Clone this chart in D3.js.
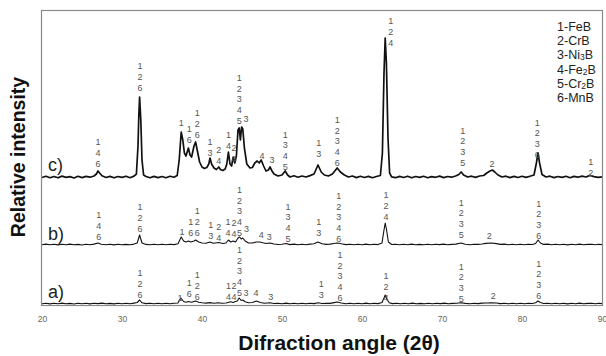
<!DOCTYPE html>
<html>
<head>
<meta charset="utf-8">
<script src="https://cdn.jsdelivr.net/npm/d3@7"></script>
<style>
  body { margin: 0; background: #fff; }
  svg { display: block; font-family: "Liberation Sans", Arial, sans-serif; }
</style>
</head>
<body>
<svg id="chart" width="606" height="356"></svg>
<script>
// XRD patterns, intensity read as offset above each pattern's own baseline
const xTicks = [20, 30, 40, 50, 60, 70, 80, 90];
const seriesNames = ["a)", "b)", "c)"];
const seriesOffsets = [2, 61, 128];

const patternA = [[20,0.2],[20.5,0.8],[21,0.1],[21.5,0.7],[22,0.3],[22.5,0.9],[23,0.2],[23.5,0.6],[24,0],[24.5,0.8],[25,0.3],[25.5,0.7],[26,0.1],[26.5,0.8],[27,0.4],[27.5,0.9],[28,0.2],[28.5,0.6],[29,0.1],[29.5,0.8],[30,0.3],[30.5,0.7],[31,0.2],[31.5,0.9],[31.9,1.5],[32.2,4],[32.5,1.2],[33,0.4],[33.5,0.8],[34,0.2],[34.5,0.7],[35,0.3],[35.5,0.8],[36,0.2],[36.5,0.7],[37,1],[37.35,6],[37.7,2.5],[38,1.8],[38.3,2.5],[38.7,1.8],[39.2,3],[39.6,1.8],[40,1.2],[40.5,0.9],[41,1.4],[41.5,0.8],[42,1.2],[42.5,0.7],[43,1],[43.6,2.2],[43.9,1.5],[44.1,2.2],[44.4,3],[44.65,6],[44.9,3.5],[45.1,4],[45.4,2.2],[45.8,1.2],[46.3,1.5],[46.8,3],[47.3,1.5],[47.8,0.8],[48.5,1.3],[49,0.5],[49.5,0.8],[50,0.3],[50.5,0.9],[51,0.2],[51.5,0.7],[52,0.3],[52.5,0.8],[53,0.2],[53.5,0.7],[54,0.4],[54.5,1.2],[55,0.5],[55.5,0.8],[56,0.6],[56.5,1.4],[56.9,2],[57.4,1],[58,0.3],[58.5,0.8],[59,0.2],[59.5,0.7],[60,0.3],[60.5,0.9],[61,0.2],[61.5,0.7],[62,0.4],[62.5,1.5],[62.75,6],[62.9,9],[63.1,5],[63.4,1.2],[63.8,0.4],[64.3,0.8],[64.8,0.2],[65.3,0.7],[65.8,0.3],[66.3,0.9],[66.8,0.2],[67.3,0.6],[67.8,0.3],[68.3,0.8],[68.8,0.2],[69.3,0.7],[69.8,0.4],[70.3,0.9],[70.8,0.3],[71.3,0.6],[71.8,0.8],[72.4,1.3],[72.9,0.6],[73.5,0.2],[74,0.8],[74.5,0.4],[75,0.9],[75.5,1],[76.2,1.2],[76.8,1],[77.3,0.4],[77.8,0.8],[78.3,0.2],[78.8,0.7],[79.3,0.3],[79.8,0.8],[80.3,0.2],[80.8,0.7],[81.3,0.5],[81.7,1.2],[82,3],[82.3,1.5],[82.7,0.5],[83.2,0.8],[83.7,0.2],[84.2,0.7],[84.7,0.3],[85.2,0.8],[85.7,0.1],[86.2,0.7],[86.7,0.3],[87.2,0.9],[87.7,0.2],[88.2,0.6],[88.7,0.8],[89.2,0.3],[89.6,0.7],[90,0.4]];

const patternB = [[20,0.3],[20.5,0.9],[21,0.2],[21.5,0.8],[22,0.1],[22.5,0.7],[23,0.3],[23.5,0.9],[24,0.2],[24.5,0.6],[25,0],[25.5,0.8],[26,0.3],[26.5,0.9],[27,2],[27.4,0.8],[28,0.3],[28.5,0.7],[29,0.1],[29.5,0.8],[30,0.3],[30.5,0.6],[31,0.2],[31.5,0.9],[31.9,2],[32.2,10],[32.5,2],[33,0.6],[33.5,0.2],[34,0.8],[34.5,0.3],[35,0.7],[35.5,0.2],[36,0.8],[36.5,0.4],[37,1.2],[37.4,8],[37.7,4],[38,3],[38.3,4],[38.6,3],[39,4],[39.2,5],[39.6,3],[40,2],[40.5,1.8],[41,3],[41.4,1.8],[42.1,2.5],[42.6,1.5],[43,2],[43.3,5],[43.6,3],[43.9,4],[44.2,3],[44.5,7],[44.7,8],[44.9,6],[45.1,7],[45.4,4],[45.8,2],[46.3,2],[46.8,3],[47.2,3],[47.6,2.2],[48,1.5],[48.5,2],[49,1],[49.5,0.5],[50,0.8],[50.5,1.5],[51,0.4],[51.5,0.9],[52,0.2],[52.5,0.8],[53,0.3],[53.5,0.9],[54,1.2],[54.5,3],[55,1.2],[55.5,0.6],[56,0.9],[56.5,1.5],[56.9,2],[57.4,1.2],[58,0.4],[58.5,0.8],[59,0.2],[59.5,0.7],[60,0.3],[60.5,0.9],[61,0.2],[61.5,0.7],[62,0.4],[62.5,2],[62.75,15],[62.9,22],[63.05,16],[63.3,3],[63.7,0.5],[64.2,0.8],[64.7,0.2],[65.2,0.7],[65.7,0.3],[66.2,0.9],[66.7,0.2],[67.2,0.6],[67.7,0.3],[68.2,0.8],[68.7,0.2],[69.2,0.7],[69.7,0.4],[70.2,0.9],[70.7,0.3],[71.2,0.6],[71.7,0.9],[72.4,2],[72.9,0.7],[73.5,0.3],[74,0.8],[74.5,0.6],[75,1],[75.5,1.6],[76.2,2],[76.8,1.4],[77.3,0.6],[77.8,0.9],[78.3,0.2],[78.8,0.7],[79.3,0.3],[79.8,0.8],[80.3,0.2],[80.8,0.7],[81.3,0.5],[81.7,1.5],[82,5],[82.3,2],[82.7,0.6],[83.2,0.9],[83.7,0.2],[84.2,0.7],[84.7,0.3],[85.2,0.8],[85.7,0.1],[86.2,0.7],[86.7,0.3],[87.2,0.9],[87.7,0.2],[88.2,0.6],[88.7,0.8],[89.2,0.3],[89.6,0.7],[90,0.4]];

const patternC = [[20,0.5],[20.5,1.8],[21,0.3],[21.5,1.5],[22,0.2],[22.5,1.9],[23,0.6],[23.5,1.4],[24,0],[24.5,1.7],[25,0.4],[25.5,1.6],[26,0.8],[26.5,2],[26.8,4],[27,7],[27.2,5],[27.5,2.2],[28,0.5],[28.5,1.6],[29,0.2],[29.5,1.5],[30,0.6],[30.5,1.8],[31,0.3],[31.5,1.9],[31.8,4],[32,32],[32.1,62],[32.2,81],[32.35,58],[32.5,18],[32.7,3],[33,1.5],[33.5,0.2],[34,1.6],[34.5,0.4],[35,1.5],[35.5,0.3],[36,1.8],[36.5,0.8],[36.9,2.5],[37.15,18],[37.4,46],[37.6,38],[37.8,25],[38,22],[38.3,30],[38.5,23],[38.7,21],[39,32],[39.2,36],[39.4,28],[39.7,16],[40,11],[40.3,9.5],[40.6,10.5],[40.85,14],[41,20],[41.2,14],[41.5,10],[41.8,8.5],[42.1,11],[42.3,8.5],[42.6,7.5],[42.9,9],[43.1,14],[43.3,26],[43.5,14],[43.7,12],[43.9,21],[44.1,15],[44.3,22],[44.5,48],[44.65,50],[44.8,38],[44.95,51],[45.1,49],[45.3,30],[45.6,14],[46,10],[46.3,10.5],[46.6,15],[46.9,17],[47.15,15],[47.4,18],[47.7,12],[48,7],[48.3,8],[48.5,11],[48.75,7],[49,4],[49.5,2],[50,3],[50.4,7],[50.7,3],[51,1],[51.5,2.2],[52,0.8],[52.5,2],[53,1],[53.5,2.4],[54,4],[54.5,13],[54.9,6],[55.3,3],[55.8,2],[56.3,4],[56.9,10],[57.3,6],[57.8,3],[58.3,1],[58.8,2],[59.3,0.4],[59.8,1.7],[60.3,0.5],[60.8,1.6],[61.3,0.3],[61.8,1.5],[62.3,2.5],[62.55,25],[62.75,105],[62.9,140],[63.05,115],[63.25,40],[63.45,5],[63.7,1.2],[64.2,0.3],[64.7,1.6],[65.2,0.5],[65.7,1.8],[66.2,0.2],[66.7,1.5],[67.2,0.6],[67.7,1.7],[68.2,0.3],[68.7,1.4],[69.2,0.7],[69.7,1.9],[70.2,0.4],[70.7,1.5],[71.2,0.8],[71.7,2],[72.1,3.5],[72.4,6],[72.7,3],[73.2,1],[73.7,1.8],[74.2,0.6],[74.7,2],[75.2,2.5],[75.6,5],[76,7],[76.3,8],[76.6,6],[77,3],[77.5,1],[78,1.8],[78.5,0.4],[79,1.6],[79.5,0.5],[80,1.7],[80.5,0.6],[81,1.8],[81.5,3],[81.8,15],[82,25],[82.2,15],[82.5,3.5],[83,1],[83.5,1.8],[84,0.4],[84.5,1.5],[85,0.6],[85.5,1.7],[86,0.3],[86.5,1.6],[87,0.8],[87.5,1.9],[88,1],[88.5,2.6],[89,1.4],[89.5,0.6],[90,1.2]];

// peak markers: [2theta, phase digits, height of lowest digit above baseline]
const peaksA = [[32.25,"126",9],[37.25,"1",6],[38.4,"16",10],[39.4,"126",7],[43.3,"14",7],[44.0,"24",7],[44.7,"12345",11],[45.5,"3",11],[46.75,"4",11],[48.6,"3",7],[54.9,"13",9],[57.25,"12346",6],[63.0,"124",6],[72.4,"1235",5],[76.4,"2",8],[82.1,"1236",8]];
const peaksB = [[27.1,"146",8],[32.25,"126",16],[37.5,"1",13],[38.6,"16",12],[39.4,"126",12],[41.1,"13",9],[42.1,"24",7],[43.25,"14",12],[44.0,"24",11],[44.7,"12345",12],[45.55,"3",16],[47.4,"4",10],[48.4,"3",8],[50.75,"1345",6],[54.6,"13",12],[57.1,"12346",6],[63.0,"124",28],[72.4,"1235",10],[75.9,"2",9],[82.1,"1236",9]];
const peaksC = [[27.0,"146",14],[32.25,"126",90],[37.4,"1",55],[38.4,"16",38],[39.4,"126",43],[41.0,"13",25],[42.1,"24",17],[43.3,"14",32],[44.0,"24",19],[44.65,"12345",57],[45.5,"3",59],[47.5,"4",22],[48.75,"3",18],[50.4,"1345",11],[54.6,"13",24],[56.9,"12346",15],[63.6,"124",135],[72.6,"1235",15],[76.25,"2",14],[81.9,"1236",23],[88.6,"12",5]];

const legendItems = ["1-FeB", "2-CrB", "3-Ni3B", "4-Fe2B", "5-Cr2B", "6-MnB"];

const patterns = [patternA, patternB, patternC];
const peakSets = [peaksA, peaksB, peaksC];

const svg = d3.select("#chart");
const margin = {top: 11, right: 3, bottom: 50, left: 42};
const width = 606 - margin.left - margin.right;
const height = 356 - margin.top - margin.bottom;

const x = d3.scaleLinear().domain([20, 90]).range([margin.left, margin.left + width - 1]);
const y = d3.scaleLinear().domain([0, 295]).range([margin.top + height, margin.top]);

const line = d3.line()
  .x(d => x(d[0]))
  .curve(d3.curveLinear);

// patterns
patterns.forEach((pts, i) => {
  svg.append("path")
    .datum(pts)
    .attr("fill", "none")
    .attr("stroke", "#111")
    .attr("stroke-width", i == 2 ? 1.7 : 1.1)
    .attr("stroke-linejoin", "round")
    .attr("d", line.y(d => y(seriesOffsets[i] + d[1])));
});

// phase digits above the peaks
const lineH = 10.8;
peakSets.forEach((peaks, i) => {
  peaks.forEach(p => {
    const digits = p[1].split("");
    const g = svg.append("g").attr("class", "peak-label");
    digits.forEach((ch, k) => {
      g.append("text")
        .attr("x", x(p[0]))
        .attr("y", y(seriesOffsets[i] + p[2]) - (digits.length - 1 - k) * lineH)
        .attr("text-anchor", "middle")
        .attr("dominant-baseline", "central")
        .attr("font-size", "9px")
        .attr("fill", "#555")
        .text(ch);
    });
  });
});

// series names
seriesNames.forEach((s, i) => {
  svg.append("text")
    .attr("x", 48)
    .attr("y", y(seriesOffsets[i]) - [6, 5, 7][i])
    .attr("font-size", "18px")
    .attr("fill", "#222")
    .text(s);
});

// frame
svg.append("rect")
  .attr("x", margin.left - 0.5)
  .attr("y", margin.top - 0.5)
  .attr("width", width)
  .attr("height", height)
  .attr("fill", "none")
  .attr("stroke", "#8a8a8a")
  .attr("stroke-width", 1.2);

// x axis labels
const xAxis = svg.append("g")
  .attr("transform", "translate(0," + (margin.top + height + 7) + ")")
  .call(d3.axisBottom(x).tickValues(xTicks).tickSize(0).tickFormat(d3.format("d")));
xAxis.select(".domain").remove();
xAxis.selectAll("text")
  .attr("font-family", "Liberation Sans, Arial, sans-serif")
  .attr("font-size", "8.5px")
  .attr("fill", "#666");

// axis titles
svg.append("text")
  .attr("x", 339)
  .attr("y", 350)
  .attr("text-anchor", "middle")
  .attr("font-size", "21px")
  .attr("font-weight", "bold")
  .attr("fill", "#111")
  .text("Difraction angle (2θ)");

svg.append("text")
  .attr("transform", "translate(24.5,157) rotate(-90)")
  .attr("text-anchor", "middle")
  .attr("font-size", "19.5px")
  .attr("font-weight", "bold")
  .attr("fill", "#111")
  .text("Relative intensity");

// legend, digits inside formulas are subscripts
legendItems.forEach((item, i) => {
  const t = svg.append("text")
    .attr("x", 557)
    .attr("y", 31 + i * 14.2)
    .attr("font-size", "12.5px")
    .attr("fill", "#222");
  t.append("tspan").text(item.slice(0, 2));
  item.slice(2).split(/(\d)/).filter(s => s.length).forEach(part => {
    if (/\d/.test(part)) {
      t.append("tspan").attr("font-size", "8.5px").attr("dy", 1).text(part);
    } else {
      const sp = t.append("tspan").text(part);
      if (t.selectAll("tspan").size() > 2) sp.attr("dy", -1);
    }
  });
});
</script>
</body>
</html>
